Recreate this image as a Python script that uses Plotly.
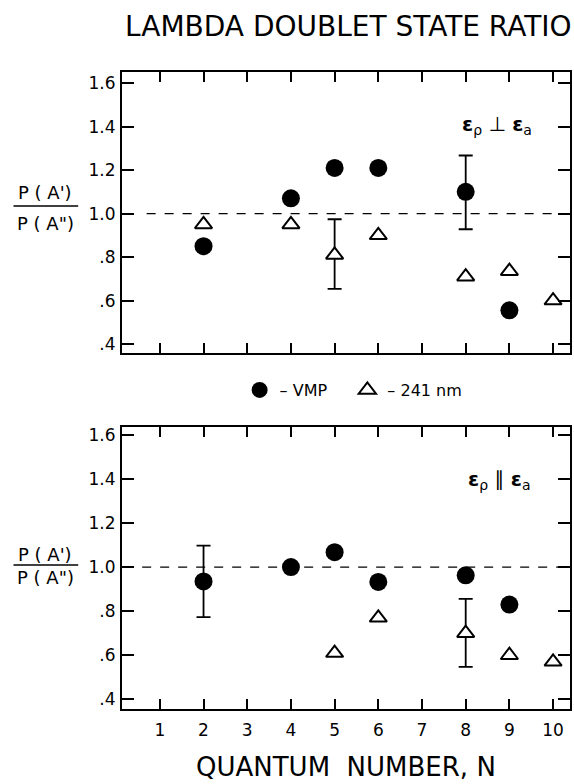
import plotly.graph_objects as go

# ---------------- data ----------------
N_TICKS = [1, 2, 3, 4, 5, 6, 7, 8, 9, 10]
Y_TICKS = [0.4, 0.6, 0.8, 1.0, 1.2, 1.4, 1.6]
Y_TICK_TEXT = [".4", ".6", ".8", "1.0", "1.2", "1.4", "1.6"]
REF_LEVEL = 1.0

# Top panel: E_p perpendicular E_a
top_vmp_n = [2, 4, 5, 6, 8, 9]
top_vmp_r = [0.85, 1.07, 1.21, 1.21, 1.10, 0.555]
top_241_n = [2, 4, 5, 6, 8, 9, 10]
top_241_r = [0.95, 0.95, 0.81, 0.90, 0.71, 0.735, 0.60]
# error bars (n, value, upper, lower)
top_vmp_err_n = [8]
top_vmp_err_r = [1.10]
top_vmp_err_hi = [1.267]
top_vmp_err_lo = [0.928]
top_241_err_n = [5]
top_241_err_r = [0.81]
top_241_err_hi = [0.974]
top_241_err_lo = [0.654]

# Bottom panel: E_p parallel E_a
bot_vmp_n = [2, 4, 5, 6, 8, 9]
bot_vmp_r = [0.935, 1.00, 1.068, 0.933, 0.963, 0.83]
bot_241_n = [5, 6, 8, 9, 10]
bot_241_r = [0.61, 0.77, 0.70, 0.60, 0.57]
bot_vmp_err_n = [2]
bot_vmp_err_r = [0.935]
bot_vmp_err_hi = [1.098]
bot_vmp_err_lo = [0.773]
bot_241_err_n = [8]
bot_241_err_r = [0.70]
bot_241_err_hi = [0.856]
bot_241_err_lo = [0.547]

# ---------------- figure ----------------
FONT = "DejaVu Sans, Verdana, sans-serif"
NB = "\u00a0"
fig = go.Figure()


def err_trace(n, r, hi, lo, xa, ya):
    return go.Scatter(
        x=n, y=r, mode="markers", xaxis=xa, yaxis=ya,
        marker=dict(size=2, opacity=0, color="black"),
        error_y=dict(type="data", symmetric=False,
                     array=[h - v for h, v in zip(hi, r)],
                     arrayminus=[v - l for l, v in zip(lo, r)],
                     color="black", thickness=1.8, width=7),
        showlegend=False, hoverinfo="skip")


circle = dict(symbol="circle", size=18, color="black", line=dict(width=0))
tri = dict(symbol="triangle-up", size=15, color="white",
           line=dict(color="black", width=2))

# top panel (xaxis2 / yaxis2)
fig.add_trace(err_trace(top_vmp_err_n, top_vmp_err_r, top_vmp_err_hi, top_vmp_err_lo, "x2", "y2"))
fig.add_trace(err_trace(top_241_err_n, top_241_err_r, top_241_err_hi, top_241_err_lo, "x2", "y2"))
fig.add_trace(go.Scatter(x=top_vmp_n, y=top_vmp_r, mode="markers", xaxis="x2", yaxis="y2",
                         marker=circle, name="– VMP" + NB * 3, showlegend=True))
fig.add_trace(go.Scatter(x=top_241_n, y=top_241_r, mode="markers", xaxis="x2", yaxis="y2",
                         marker=tri, name="– 241 nm", showlegend=True))

# bottom panel (xaxis / yaxis)
fig.add_trace(err_trace(bot_vmp_err_n, bot_vmp_err_r, bot_vmp_err_hi, bot_vmp_err_lo, "x", "y"))
fig.add_trace(err_trace(bot_241_err_n, bot_241_err_r, bot_241_err_hi, bot_241_err_lo, "x", "y"))
fig.add_trace(go.Scatter(x=bot_vmp_n, y=bot_vmp_r, mode="markers", xaxis="x", yaxis="y",
                         marker=circle, showlegend=False))
fig.add_trace(go.Scatter(x=bot_241_n, y=bot_241_r, mode="markers", xaxis="x", yaxis="y",
                         marker=tri, showlegend=False))

# reference dashed lines at ratio = 1
for xr, yr, x0 in (("x2 domain", "y2", 0.055), ("x domain", "y", 0.045)):
    fig.add_shape(type="line", xref=xr, yref=yr, x0=x0, x1=1.0, y0=REF_LEVEL, y1=REF_LEVEL,
                  line=dict(color="black", width=1.4, dash="dash"), layer="below")

X_RANGE = [0.134, 10.387]
xcommon = dict(range=X_RANGE, tickvals=N_TICKS, ticks="inside", ticklen=10, tickwidth=1.5,
               tickcolor="black", showline=True, linecolor="black", linewidth=2,
               mirror="ticks", showgrid=False, zeroline=False, domain=[0, 1],
               tickfont=dict(family=FONT, size=17, color="black"))
ycommon = dict(tickvals=Y_TICKS, ticktext=Y_TICK_TEXT, ticks="inside", ticklen=12,
               tickwidth=1.5, tickcolor="black", showline=True, linecolor="black",
               linewidth=2, mirror="ticks", showgrid=False, zeroline=False,
               tickfont=dict(family=FONT, size=17, color="black"), ticklabelstandoff=1)

fig.update_layout(
    width=574, height=784,
    margin=dict(l=122, r=2, t=72, b=75),
    paper_bgcolor="white", plot_bgcolor="white",
    font=dict(family=FONT, color="black"),
    xaxis=dict(**xcommon, anchor="y", ticklabelstandoff=5),
    yaxis=dict(**ycommon, range=[0.356, 1.636], domain=[0, 0.4427], anchor="x"),
    xaxis2=dict(**xcommon, anchor="y2", showticklabels=False),
    yaxis2=dict(**ycommon, range=[0.359, 1.651], domain=[0.5589, 1.0], anchor="x2"),
    legend=dict(orientation="h", x=0.517, xanchor="center", y=0.5008, yanchor="middle",
                font=dict(family=FONT, size=16, color="black"), itemwidth=30,
                bgcolor="rgba(0,0,0,0)"),
    showlegend=True,
)

ann = []
ann.append(dict(text="LAMBDA DOUBLET STATE RATIO", x=0.505, y=1.0707, xref="paper", yref="paper",
                showarrow=False, xanchor="center", yanchor="middle",
                font=dict(family=FONT, size=28, color="black")))
ann.append(dict(text="QUANTUM" + NB + NB + "NUMBER, N", x=0.5, y=-0.091, xref="paper", yref="paper",
                showarrow=False, xanchor="center", yanchor="middle",
                font=dict(family=FONT, size=26, color="black")))
ann.append(dict(text="<b>ε</b><sub>ρ</sub> ⊥ <b>ε</b><sub>a</sub>", x=0.836, y=0.917,
                xref="paper", yref="paper", showarrow=False, xanchor="center", yanchor="middle",
                font=dict(family=FONT, size=20, color="black")))
ann.append(dict(text="<b>ε</b><sub>ρ</sub> ∥ <b>ε</b><sub>a</sub>", x=0.842, y=0.3595,
                xref="paper", yref="paper", showarrow=False, xanchor="center", yanchor="middle",
                font=dict(family=FONT, size=20, color="black")))
# fraction y-labels
num_txt = "P" + NB + "(" + NB + "A')"
den_txt = "P" + NB + "(" + NB + 'A")'
for ynum, ybar, yden in ((0.8116, 0.7896, 0.7614), (0.2433, 0.2261, 0.2057)):
    ann.append(dict(text=num_txt, x=-0.1711, y=ynum, xref="paper", yref="paper",
                    showarrow=False, xanchor="center", yanchor="middle",
                    font=dict(family=FONT, size=18, color="black")))
    ann.append(dict(text=den_txt, x=-0.1711, y=yden, xref="paper", yref="paper",
                    showarrow=False, xanchor="center", yanchor="middle",
                    font=dict(family=FONT, size=18, color="black")))
    fig.add_shape(type="line", xref="paper", yref="paper", x0=-0.2422, x1=-0.0978,
                  y0=ybar, y1=ybar, line=dict(color="black", width=1.5))
fig.update_layout(annotations=ann)

fig.write_html("out.html", config={"displayModeBar": False},
               post_script="document.body.style.margin='0';document.body.style.overflow='hidden';")
